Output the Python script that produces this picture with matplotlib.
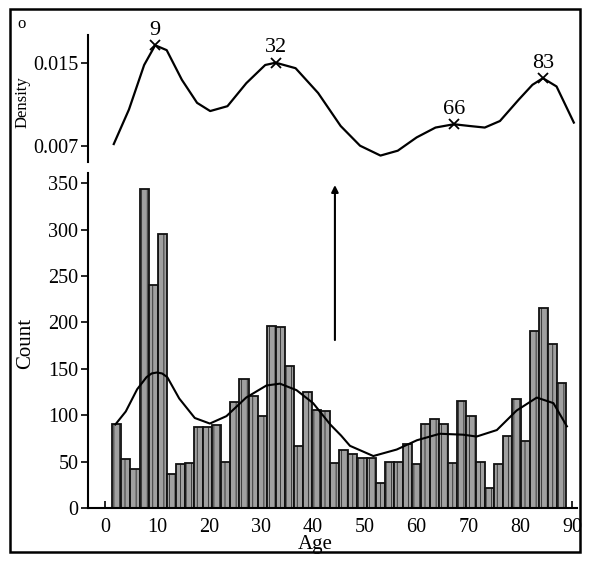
import numpy as np
import matplotlib
matplotlib.use("Agg")
import matplotlib.pyplot as plt
from matplotlib.patches import Rectangle

plt.rcParams['font.family'] = ['Liberation Serif', 'DejaVu Serif']
plt.rcParams['hatch.color'] = '#7a7a7a'
plt.rcParams['hatch.linewidth'] = 0.5

# ---------------- data ----------------
bin_start = 1.4
bin_width = 1.75
counts = [90, 53, 42, 344, 240, 295, 37, 47, 48, 87,
          87, 89, 50, 114, 139, 121, 99, 196, 195, 153,
          67, 125, 106, 104, 48, 63, 58, 54, 54, 27,
          50, 50, 69, 47, 91, 96, 90, 49, 115, 99,
          50, 22, 47, 78, 117, 72, 191, 215, 177, 135]

# density overlay on histogram (count scale)
curve_age = [2.0, 4.0, 6.2, 8.0, 9.0, 10.0, 11.0, 12.0, 14.3, 17.3, 20.2, 23.4,
             27.2, 31.1, 33.7, 36.9, 40.1, 43.4, 45.5, 47.2, 51.7, 56.2, 60.1,
             64.5, 69.0, 71.6, 75.5, 79.3, 83.2, 86.4, 89.0]
curve_cnt = [90, 104, 128, 141, 145, 146, 145, 141, 118, 97, 91, 99,
             119, 132, 134, 127, 113, 90, 78, 67, 56, 63, 73,
             80, 79, 77, 84, 105, 119, 113, 88]

# top density panel
dens_age = [1.1, 4.0, 6.9, 9.0, 11.2, 14.1, 17.0, 19.5, 22.8, 26.4, 30.0, 32.0,
            35.8, 40.1, 44.4, 48.1, 52.0, 55.3, 58.9, 62.5, 66.0, 69.0, 71.9,
            74.8, 78.4, 81.0, 83.0, 85.6, 88.9]
dens_val = [0.00719, 0.01052, 0.01481, 0.01671, 0.01624, 0.01338, 0.01116,
            0.01037, 0.01084, 0.01306, 0.01481, 0.01503, 0.01450, 0.01211,
            0.00893, 0.00703, 0.00608, 0.00655, 0.00783, 0.00878, 0.00910,
            0.00893, 0.00878, 0.00941, 0.01148, 0.01290, 0.01354, 0.01274,
            0.00926]
peak_ages = [9, 32, 66, 83]
peak_vals = [0.01671, 0.01503, 0.00910, 0.01354]
peak_labels = ["9", "32", "66", "83"]

x_ticks = [0, 10, 20, 30, 40, 50, 60, 70, 80, 90]
y_ticks = [0, 50, 100, 150, 200, 250, 300, 350]
dens_ticks = [0.007, 0.015]

# ---------------- figure ----------------
W, H = 593, 562
fig = plt.figure(figsize=(W / 100, H / 100), dpi=100)

def fx(px):
    return px / W

def fy(py):
    return 1 - py / H

# outer frame
fig.patches.append(Rectangle((fx(10), fy(552)), fx(580) - fx(10), fy(9) - fy(552),
                             transform=fig.transFigure, fill=False,
                             edgecolor='black', linewidth=1.8))
fig.text(fx(22), fy(24), "o", fontsize=12, ha='center', va='center')

# ---- bottom histogram axes ----
axb = fig.add_axes([fx(88), fy(508), fx(577) - fx(88), fy(173) - fy(508)])
lefts = [bin_start + i * bin_width for i in range(len(counts))]
axb.bar(lefts, counts, width=bin_width, align='edge', facecolor='#a0a0a0',
        edgecolor='#111111', linewidth=1.3, hatch='|||', zorder=2)
axb.plot(curve_age, curve_cnt, color='black', lw=1.5, zorder=3)
axb.annotate("", xy=(44.3, 351), xytext=(44.3, 178),
             arrowprops=dict(arrowstyle='-|>', color='black', lw=1.5,
                             mutation_scale=10))
axb.set_xlim((88 - 105) / 5.19, (577 - 105) / 5.19)
axb.set_ylim(0, 361)
axb.set_xticks(x_ticks)
axb.set_yticks(y_ticks)
axb.tick_params(axis='both', labelsize=14.5, width=1.2, length=5)
axb.tick_params(axis='x', direction='in', pad=7)
axb.tick_params(axis='y', direction='out', pad=2)
for s in ['top', 'right']:
    axb.spines[s].set_visible(False)
for s in ['left', 'bottom']:
    axb.spines[s].set_linewidth(1.5)
axb.set_xlabel("Age", fontsize=15)
axb.xaxis.set_label_coords((315 - 88) / 489, -0.08)
axb.set_ylabel("Count", fontsize=15)
axb.yaxis.set_label_coords(-0.108, 0.49)
axb.set_facecolor('none')

# ---- top density axes ----
axt = fig.add_axes([fx(88), fy(162), fx(577) - fx(88), fy(35) - fy(162)])
axt.plot(dens_age, dens_val, color='black', lw=1.6)
axt.plot(peak_ages, peak_vals, linestyle='none', marker='x', color='black',
         markersize=7, mew=1.3)
for a, v, t in zip(peak_ages, peak_vals, peak_labels):
    axt.annotate(t, (a, v), xytext=(0, 4), textcoords='offset points',
                 ha='center', va='bottom', fontsize=16)
axt.set_xlim((88 - 108) / 5.24, (577 - 108) / 5.24)
axt.set_ylim(0.00546, 0.0177)
axt.set_yticks(dens_ticks)
axt.set_yticklabels(["0.007", "0.015"])
axt.set_xticks([])
axt.tick_params(axis='y', labelsize=14.5, width=1.2, length=5, direction='out', pad=2)
for s in ['top', 'right', 'bottom']:
    axt.spines[s].set_visible(False)
axt.spines['left'].set_linewidth(1.5)
axt.set_ylabel("Density", fontsize=12)
axt.yaxis.set_label_coords(-0.118, 0.47)
axt.set_facecolor('none')

fig.savefig("out.png", dpi=100)
